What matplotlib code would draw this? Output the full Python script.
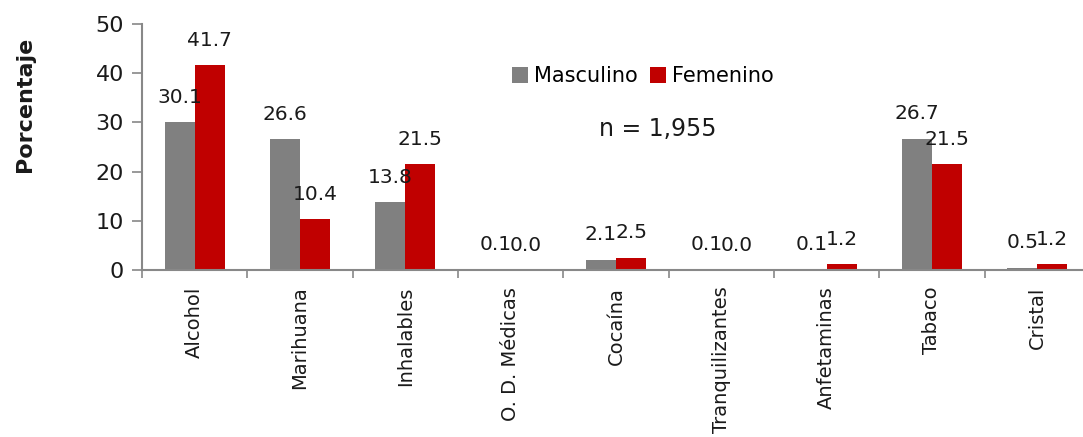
import matplotlib
matplotlib.use("Agg")
import matplotlib.pyplot as plt
import numpy as np

categorias = ["Alcohol", "Marihuana", "Inhalables", "O. D. Médicas", "Cocaína",
              "Tranquilizantes", "Anfetaminas", "Tabaco", "Cristal"]
masculino = [30.1, 26.6, 13.8, 0.1, 2.1, 0.1, 0.1, 26.7, 0.5]
femenino = [41.7, 10.4, 21.5, 0.0, 2.5, 0.0, 1.2, 21.5, 1.2]
yticks = [0, 10, 20, 30, 40, 50]

plt.rcParams["font.family"] = ["DejaVu Sans"]

W, H = 1083, 437
fig = plt.figure(figsize=(W / 100, H / 100), dpi=100)
# axes extends slightly past the right edge of the figure
left, right, bottom, top = 142, 1090, 270, 24
ax = fig.add_axes([left / W, 1 - bottom / H, (right - left) / W, (bottom - top) / H])

x = np.arange(len(categorias))
bw = 0.285
gris = "#808080"
rojo = "#C00000"
b1 = ax.bar(x - bw / 2, masculino, bw, color=gris, label="Masculino")
b2 = ax.bar(x + bw / 2, femenino, bw, color=rojo, label="Femenino")

for bars, vals in ((b1, masculino), (b2, femenino)):
    for b, v in zip(bars, vals):
        ax.annotate(f"{v:.1f}", (b.get_x() + b.get_width() / 2, v),
                    xytext=(0, 11), textcoords="offset points",
                    ha="center", va="bottom", fontsize=14.5, color="#1a1a1a")

ax.set_xlim(-0.5, len(categorias) - 0.5)
ax.set_ylim(0, 50)
ax.set_yticks(yticks)
ax.tick_params(axis="y", labelsize=16, length=7, width=1.2, color="#888888",
               pad=6, labelcolor="#1a1a1a")

ax.set_xticks(x)
ax.set_xticklabels(categorias, rotation=90, fontsize=14, color="#1a1a1a")
ax.tick_params(axis="x", length=0, pad=12)
ax.set_xticks(np.arange(len(categorias) + 1) - 0.5, minor=True)
ax.tick_params(axis="x", which="minor", length=6, width=1.2, color="#888888")

for s in ("top", "right"):
    ax.spines[s].set_visible(False)
for s in ("left", "bottom"):
    ax.spines[s].set_color("#888888")
    ax.spines[s].set_linewidth(1.5)

fig.text(25 / W, 1 - 104 / H, "Porcentaje", rotation=90, ha="center", va="center",
         fontsize=16, fontweight="bold", color="#1a1a1a")

leg = ax.legend(loc="upper left", bbox_to_anchor=((504 - left) / (right - left), 1 - (58 - top) / (bottom - top)),
                ncol=2, frameon=False, fontsize=15, handlelength=0.75, handleheight=0.75,
                handletextpad=0.3, columnspacing=0.6, borderaxespad=0)
ax.text((658 - left) / (right - left), 1 - (129 - top) / (bottom - top), "n = 1,955",
        transform=ax.transAxes, ha="center", va="center", fontsize=17, color="#1a1a1a")

fig.savefig("out.png", dpi=100)
